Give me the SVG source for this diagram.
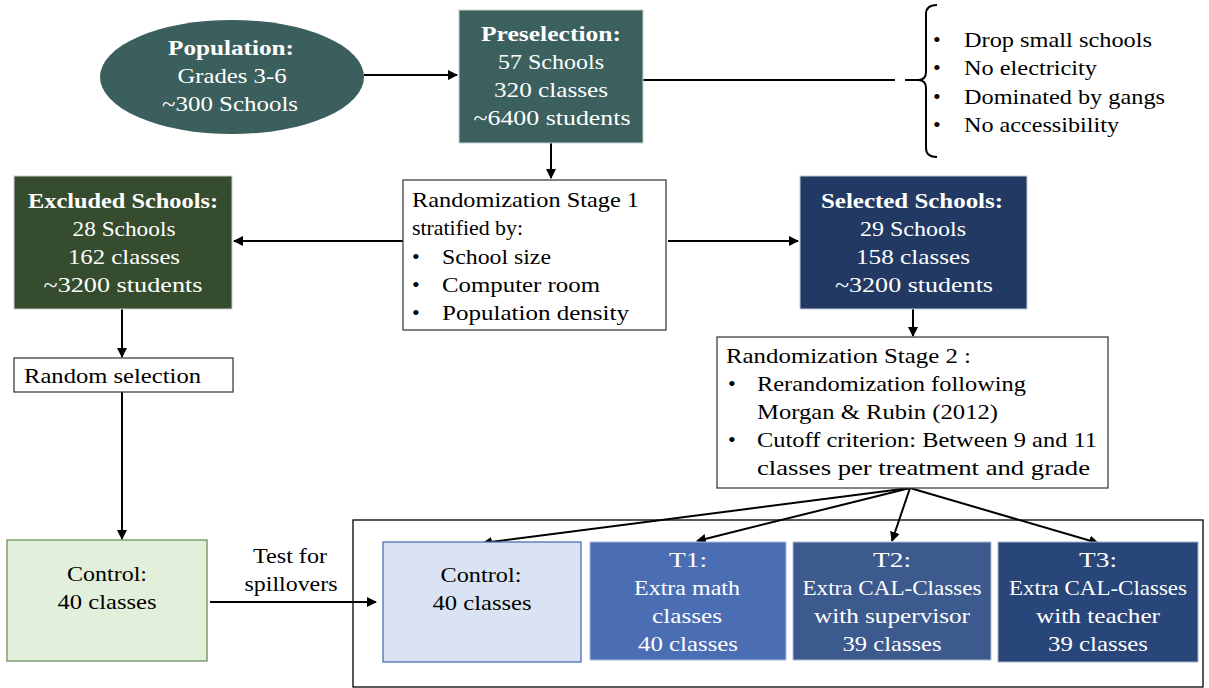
<svg xmlns="http://www.w3.org/2000/svg" width="1209" height="688" viewBox="0 0 1209 688">
<style>
text{font-family:"Liberation Serif","DejaVu Serif",serif;font-size:22px;}
.w{fill:#ffffff;}
.k{fill:#000000;}
.c{text-anchor:middle;}
.b{font-weight:bold;}
.line{stroke:#000;stroke-width:2;fill:none;}
.wbox{fill:#ffffff;stroke:#404040;stroke-width:1.3;}
</style>
<defs>
<marker id="ah" markerWidth="10" markerHeight="10" refX="9" refY="5" orient="auto" markerUnits="userSpaceOnUse">
<path d="M0,0 L10,5 L0,10 Z" fill="#000"/>
</marker>
</defs>
<rect width="1209" height="688" fill="#ffffff"/>
<g id="connectors">
<line class="line" x1="364" y1="75" x2="457" y2="75" marker-end="url(#ah)"/>
<line class="line" x1="551" y1="143" x2="551" y2="178" marker-end="url(#ah)"/>
<line class="line" x1="643" y1="80" x2="895" y2="80"/>
<line class="line" x1="905" y1="80" x2="919" y2="80"/>
<path class="line" d="M937,5 Q926,5 926,14 L926,72 Q926,80 918,80 Q926,80 926,88 L926,148 Q926,157 937,157"/>
<line class="line" x1="403" y1="241" x2="234" y2="241" marker-end="url(#ah)"/>
<line class="line" x1="668" y1="241" x2="798" y2="241" marker-end="url(#ah)"/>
<line class="line" x1="913" y1="309" x2="913" y2="336" marker-end="url(#ah)"/>
<line class="line" x1="122" y1="309" x2="122" y2="357" marker-end="url(#ah)"/>
<line class="line" x1="122" y1="392" x2="122" y2="539" marker-end="url(#ah)"/>
<line class="line" x1="210" y1="602" x2="376" y2="602" marker-end="url(#ah)"/>
<line class="line" x1="910" y1="488" x2="483" y2="543" marker-end="url(#ah)"/>
<line class="line" x1="910" y1="488" x2="697" y2="541" marker-end="url(#ah)"/>
<line class="line" x1="910" y1="488" x2="892" y2="541" marker-end="url(#ah)"/>
<line class="line" x1="910" y1="488" x2="1098" y2="543" marker-end="url(#ah)"/>
</g>
<g id="population">
<ellipse cx="232" cy="77" rx="132" ry="57" fill="#3a5f5c"/>
<text class="w c b" x="231" y="55" textLength="126" lengthAdjust="spacingAndGlyphs">Population:</text>
<text class="w c" x="232" y="83" textLength="109" lengthAdjust="spacingAndGlyphs">Grades 3-6</text>
<text class="w c" x="230" y="111" textLength="136" lengthAdjust="spacingAndGlyphs">~300 Schools</text>
</g>
<g id="preselection">
<rect x="459" y="10" width="184" height="133" fill="#3b605d" stroke="#c9d3d2" stroke-width="1"/>
<text class="w c b" x="551" y="41" textLength="140" lengthAdjust="spacingAndGlyphs">Preselection:</text>
<text class="w c" x="551" y="69" textLength="106" lengthAdjust="spacingAndGlyphs">57 Schools</text>
<text class="w c" x="551" y="97" textLength="114" lengthAdjust="spacingAndGlyphs">320 classes</text>
<text class="w c" x="552" y="125" textLength="157" lengthAdjust="spacingAndGlyphs">~6400 students</text>
</g>
<g id="criteria">
<text class="k" x="933" y="47">•</text><text class="k" x="964" y="47" textLength="188" lengthAdjust="spacingAndGlyphs">Drop small schools</text>
<text class="k" x="933" y="75">•</text><text class="k" x="964" y="75" textLength="133" lengthAdjust="spacingAndGlyphs">No electricity</text>
<text class="k" x="933" y="104">•</text><text class="k" x="964" y="104" textLength="201" lengthAdjust="spacingAndGlyphs">Dominated by gangs</text>
<text class="k" x="933" y="132">•</text><text class="k" x="964" y="132" textLength="155" lengthAdjust="spacingAndGlyphs">No accessibility</text>
</g>
<g id="stage1">
<rect class="wbox" x="403" y="180" width="263" height="150"/>
<text class="k" x="412" y="207" textLength="227" lengthAdjust="spacingAndGlyphs">Randomization Stage 1</text>
<text class="k" x="412" y="235" textLength="111" lengthAdjust="spacingAndGlyphs">stratified by:</text>
<text class="k" x="412" y="264">•</text><text class="k" x="442" y="264" textLength="109" lengthAdjust="spacingAndGlyphs">School size</text>
<text class="k" x="412" y="292">•</text><text class="k" x="442" y="292" textLength="158" lengthAdjust="spacingAndGlyphs">Computer room</text>
<text class="k" x="412" y="320">•</text><text class="k" x="442" y="320" textLength="187" lengthAdjust="spacingAndGlyphs">Population density</text>
</g>
<g id="excluded">
<rect x="14" y="176" width="218" height="133" fill="#354d2e" stroke="#c9d0c6" stroke-width="1"/>
<text class="w c b" x="123" y="208" textLength="190" lengthAdjust="spacingAndGlyphs">Excluded Schools:</text>
<text class="w c" x="124" y="236" textLength="103" lengthAdjust="spacingAndGlyphs">28 Schools</text>
<text class="w c" x="124" y="264" textLength="112" lengthAdjust="spacingAndGlyphs">162 classes</text>
<text class="w c" x="123" y="292" textLength="159" lengthAdjust="spacingAndGlyphs">~3200 students</text>
</g>
<g id="selected">
<rect x="800" y="176" width="227" height="133" fill="#223a63" stroke="#c4ccd8" stroke-width="1"/>
<text class="w c b" x="912" y="208" textLength="182" lengthAdjust="spacingAndGlyphs">Selected Schools:</text>
<text class="w c" x="913" y="236" textLength="106" lengthAdjust="spacingAndGlyphs">29 Schools</text>
<text class="w c" x="913" y="264" textLength="114" lengthAdjust="spacingAndGlyphs">158 classes</text>
<text class="w c" x="914" y="292" textLength="158" lengthAdjust="spacingAndGlyphs">~3200 students</text>
</g>
<g id="stage2">
<rect class="wbox" x="717" y="337" width="391" height="151"/>
<text class="k" x="726" y="363" textLength="245" lengthAdjust="spacingAndGlyphs">Randomization Stage 2 :</text>
<text class="k" x="728" y="391">•</text><text class="k" x="757" y="391" textLength="269" lengthAdjust="spacingAndGlyphs">Rerandomization following</text>
<text class="k" x="757" y="419" textLength="241" lengthAdjust="spacingAndGlyphs">Morgan &amp; Rubin (2012)</text>
<text class="k" x="728" y="447">•</text><text class="k" x="757" y="447" textLength="340" lengthAdjust="spacingAndGlyphs">Cutoff criterion: Between 9 and 11</text>
<text class="k" x="757" y="475" textLength="333" lengthAdjust="spacingAndGlyphs">classes per treatment and grade</text>
</g>
<g id="random-selection">
<rect class="wbox" x="14" y="358" width="219" height="34"/>
<text class="k" x="24" y="383" textLength="177" lengthAdjust="spacingAndGlyphs">Random selection</text>
</g>
<g id="control-spill">
<rect x="7" y="540" width="200" height="121" fill="#e2efda" stroke="#6e8f5c" stroke-width="1.3"/>
<text class="k c" x="107" y="581" textLength="80" lengthAdjust="spacingAndGlyphs">Control:</text>
<text class="k c" x="107" y="609" textLength="99" lengthAdjust="spacingAndGlyphs">40 classes</text>
</g>
<g id="spill-label">
<text class="k c" x="290" y="563" textLength="74" lengthAdjust="spacingAndGlyphs">Test for</text>
<text class="k c" x="291" y="591" textLength="93" lengthAdjust="spacingAndGlyphs">spillovers</text>
</g>
<g id="treatment-group">
<rect x="353" y="520" width="850" height="167" fill="none" stroke="#000" stroke-width="1.3"/>
</g>
<g id="control">
<rect x="383" y="542" width="198" height="120" fill="#dae3f3" stroke="#4a6fb5" stroke-width="1.3"/>
<text class="k c" x="481" y="582" textLength="81" lengthAdjust="spacingAndGlyphs">Control:</text>
<text class="k c" x="482" y="610" textLength="99" lengthAdjust="spacingAndGlyphs">40 classes</text>
</g>
<g id="t1">
<rect x="590" y="542" width="196" height="118" fill="#4a6db4" stroke="#a9b9db" stroke-width="1"/>
<text class="w c" x="688" y="567" textLength="38" lengthAdjust="spacingAndGlyphs">T1:</text>
<text class="w c" x="687" y="595" textLength="106" lengthAdjust="spacingAndGlyphs">Extra math</text>
<text class="w c" x="687" y="623" textLength="70" lengthAdjust="spacingAndGlyphs">classes</text>
<text class="w c" x="688" y="651" textLength="100" lengthAdjust="spacingAndGlyphs">40 classes</text>
</g>
<g id="t2">
<rect x="793" y="542" width="198" height="118" fill="#3c5a8e" stroke="#b0bdd4" stroke-width="1"/>
<text class="w c" x="892" y="567" textLength="38" lengthAdjust="spacingAndGlyphs">T2:</text>
<text class="w c" x="892" y="595" textLength="179" lengthAdjust="spacingAndGlyphs">Extra CAL-Classes</text>
<text class="w c" x="892" y="623" textLength="156" lengthAdjust="spacingAndGlyphs">with supervisor</text>
<text class="w c" x="892" y="651" textLength="99" lengthAdjust="spacingAndGlyphs">39 classes</text>
</g>
<g id="t3">
<rect x="998" y="542" width="200" height="120" fill="#284679" stroke="#a9b6cc" stroke-width="1"/>
<text class="w c" x="1098" y="567" textLength="38" lengthAdjust="spacingAndGlyphs">T3:</text>
<text class="w c" x="1098" y="595" textLength="178" lengthAdjust="spacingAndGlyphs">Extra CAL-Classes</text>
<text class="w c" x="1098" y="623" textLength="124" lengthAdjust="spacingAndGlyphs">with teacher</text>
<text class="w c" x="1098" y="651" textLength="100" lengthAdjust="spacingAndGlyphs">39 classes</text>
</g>
</svg>
